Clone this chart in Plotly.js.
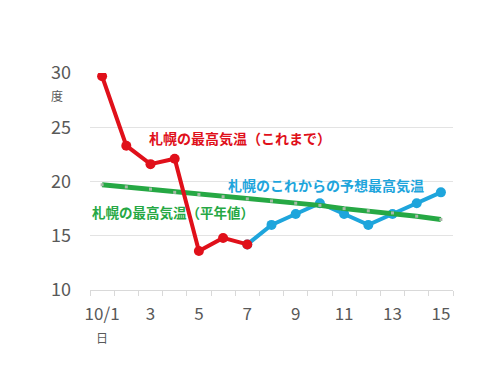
<!DOCTYPE html>
<html><head><meta charset="utf-8">
<script src="https://cdn.plot.ly/plotly-3.0.1.min.js"></script>
<style>html,body{margin:0;padding:0;background:#fff}#c{width:500px;height:375px}</style>
</head><body><div id="c"></div>
<script>
const days = [1,2,3,4,5,6,7,8,9,10,11,12,13,14,15];
const tickDays = [1,3,5,7,9,11,13,15];
const tickLabels = ["10/1","3","5","7","9","11","13","15"];
const observedDays = [1,2,3,4,5,6,7];
const observed = [29.7,23.3,21.6,22.1,13.6,14.8,14.2];
const forecastDays = [7,8,9,10,11,12,13,14,15];
const forecast = [14.2,16.0,17.0,18.0,17.0,16.0,17.0,18.0,19.0];
const normal = [19.7,19.5,19.3,19.0,18.8,18.6,18.4,18.2,18.0,17.8,17.5,17.3,17.1,16.8,16.5];
const boundaries = [0.5,1.5,2.5,3.5,4.5,5.5,6.5,7.5,8.5,9.5,10.5,11.5,12.5,13.5,14.5,15.5];

const font = "Noto Sans CJK JP, Noto Sans, sans-serif";
const red = "#e0101a", blue = "#1ea5dc", green = "#26a844", gray = "#595959";

const traces = [
  {x: forecastDays, y: forecast, mode: "lines+markers", line:{color:blue,width:4}, marker:{color:blue,size:10}},
  {x: days, y: normal, mode: "lines+markers", line:{color:green,width:5}, marker:{color:"#a9b9a9",size:3,symbol:"square"}},
  {x: observedDays, y: observed, mode: "lines+markers", line:{color:red,width:4}, marker:{color:red,size:10}},
  {x: [1], y: [10], xaxis:"x2", mode:"markers", marker:{opacity:0}, hoverinfo:"skip"}
];

const layout = {
  width:500, height:375, showlegend:false,
  margin:{l:90, r:47, t:73, b:85},
  paper_bgcolor:"#fff", plot_bgcolor:"#fff",
  font:{family:font, color:gray},
  xaxis:{range:[0.5,15.5], tickmode:"array", tickvals:tickDays, ticktext:tickLabels,
         showgrid:false, zeroline:false, showline:false, ticks:"",
         tickfont:{size:17, color:gray}, ticklabelstandoff:12},
  xaxis2:{range:[0.5,15.5], overlaying:"x", anchor:"y", side:"bottom", tickmode:"array", tickvals:boundaries,
          showticklabels:false, ticks:"outside", ticklen:5, tickcolor:"#d9d9d9", tickwidth:1,
          showline:true, linecolor:"#d9d9d9", linewidth:1, showgrid:false, zeroline:false},
  yaxis:{range:[10,30], tickvals:[10,15,20,25,30], showgrid:true, gridcolor:"#e3e3e3", gridwidth:1,
         zeroline:false, showline:false, ticks:"", tickfont:{size:18, color:gray}, ticklabelstandoff:18},
  annotations:[
    {xref:"paper", yref:"paper", x:-0.09, y:0.898, text:"度", showarrow:false, font:{size:12, color:gray}, xanchor:"center", yanchor:"middle"},
    {xref:"paper", yref:"paper", x:0.034, y:-0.22, text:"日", showarrow:false, font:{size:12, color:gray}, xanchor:"center", yanchor:"middle"},
    {x:2.84, y:24.0, text:"<b>札幌の最高気温（これまで）</b>", showarrow:false, xanchor:"left", yanchor:"middle", font:{size:14, color:red}},
    {x:6.12, y:19.7, text:"<b>札幌のこれからの予想最高気温</b>", showarrow:false, xanchor:"left", yanchor:"middle", font:{size:14, color:blue}},
    {x:0.52, y:17.2, text:"<b>札幌の最高気温（平年値）</b>", showarrow:false, xanchor:"left", yanchor:"middle", font:{size:13.5, color:green}}
  ]
};
Plotly.newPlot("c", traces, layout, {staticPlot:true, displayModeBar:false});
</script></body></html>
